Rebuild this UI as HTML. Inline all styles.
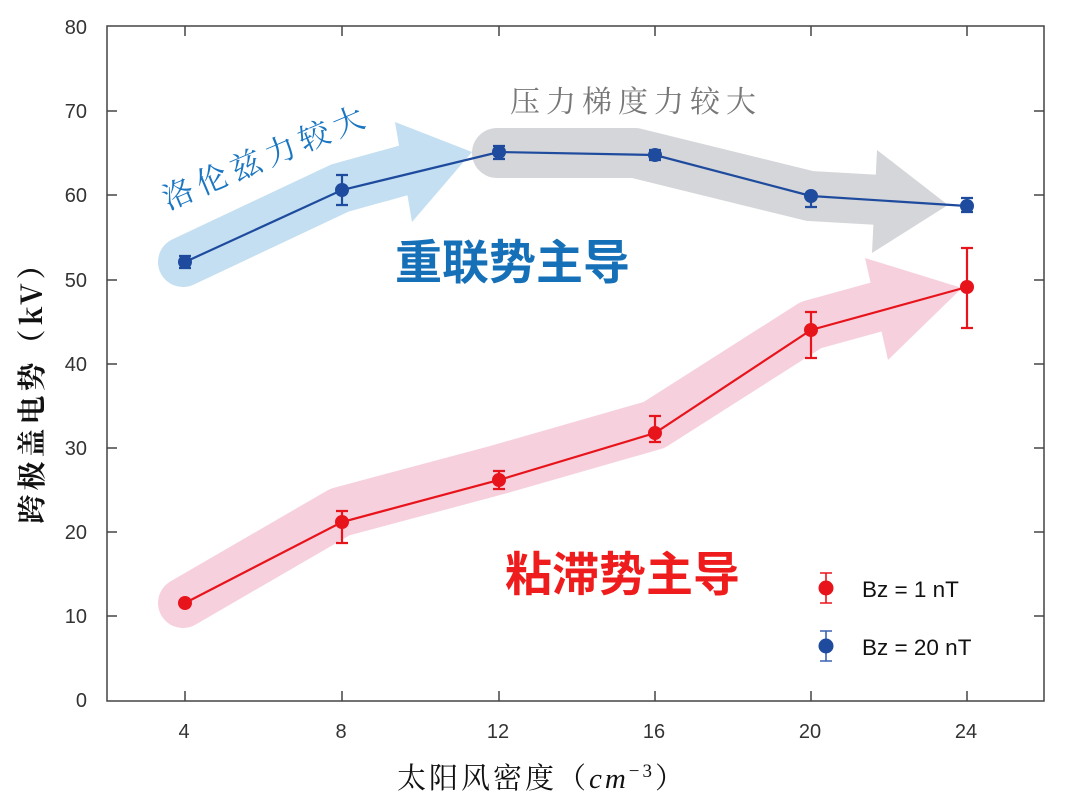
<!DOCTYPE html>
<html><head><meta charset="utf-8"><style>
body{margin:0;background:#fff}
svg text{font-family:"Liberation Sans","Noto Sans CJK SC",sans-serif}
</style></head><body>
<svg width="1068" height="805" viewBox="0 0 1068 805" xmlns="http://www.w3.org/2000/svg">
<polyline points="183,262 340,188 405,170" fill="none" stroke="#c3dff1" stroke-width="50" stroke-linecap="round" stroke-linejoin="round"/>
<polygon points="395,122 472,152 412,222" fill="#c3dff1"/>
<polyline points="497,153 635,153 810,196 880,200" fill="none" stroke="#d4d6d9" stroke-width="50" stroke-linecap="round" stroke-linejoin="round"/>
<polygon points="877,150 948,205 872,253" fill="#d4d6d9"/>
<polyline points="183,603 340,512 497,470 654,425 811,325 880,306" fill="none" stroke="#f6d1dd" stroke-width="50" stroke-linecap="round" stroke-linejoin="round"/>
<polygon points="865,258 962,288 888,360" fill="#f6d1dd"/>
<rect x="107" y="26" width="937" height="675" fill="none" stroke="#444" stroke-width="1.5"/>
<g stroke="#444" stroke-width="1.5">
<line x1="107" y1="111" x2="117" y2="111"/><line x1="107" y1="195" x2="117" y2="195"/><line x1="107" y1="280" x2="117" y2="280"/><line x1="107" y1="364" x2="117" y2="364"/><line x1="107" y1="448" x2="117" y2="448"/><line x1="107" y1="532" x2="117" y2="532"/><line x1="107" y1="616" x2="117" y2="616"/>
<line x1="1034" y1="111" x2="1044" y2="111"/><line x1="1034" y1="195" x2="1044" y2="195"/><line x1="1034" y1="280" x2="1044" y2="280"/><line x1="1034" y1="364" x2="1044" y2="364"/><line x1="1034" y1="448" x2="1044" y2="448"/><line x1="1034" y1="532" x2="1044" y2="532"/><line x1="1034" y1="616" x2="1044" y2="616"/>
<line x1="185" y1="701" x2="185" y2="691"/><line x1="342" y1="701" x2="342" y2="691"/><line x1="499" y1="701" x2="499" y2="691"/><line x1="655" y1="701" x2="655" y2="691"/><line x1="811" y1="701" x2="811" y2="691"/><line x1="967" y1="701" x2="967" y2="691"/>
<line x1="185" y1="26" x2="185" y2="36"/><line x1="342" y1="26" x2="342" y2="36"/><line x1="499" y1="26" x2="499" y2="36"/><line x1="655" y1="26" x2="655" y2="36"/><line x1="811" y1="26" x2="811" y2="36"/><line x1="967" y1="26" x2="967" y2="36"/>
</g>
<g font-size="20" fill="#333" text-anchor="end">
<text x="87" y="34">80</text><text x="87" y="118">70</text><text x="87" y="202">60</text><text x="87" y="287">50</text><text x="87" y="371">40</text><text x="87" y="455">30</text><text x="87" y="539">20</text><text x="87" y="623">10</text><text x="87" y="707">0</text>
</g>
<g font-size="20" fill="#333" text-anchor="middle">
<text x="184" y="738">4</text><text x="341" y="738">8</text><text x="498" y="738">12</text><text x="654" y="738">16</text><text x="810" y="738">20</text><text x="966" y="738">24</text>
</g>
<text x="542" y="788" font-size="29" text-anchor="middle" fill="#111" letter-spacing="3" style="font-family:'Noto Serif CJK SC',serif">太阳风密度（<tspan font-style="italic" style="font-family:'Liberation Serif',serif">cm</tspan><tspan font-size="19" dy="-11" style="font-family:'Liberation Serif',serif">−3</tspan><tspan dy="11">）</tspan></text>
<text transform="translate(42,385) rotate(-90)" font-size="29" text-anchor="middle" fill="#111" letter-spacing="4" style="font-family:'Noto Serif CJK SC',serif;font-weight:bold">跨极盖电势（kV）</text>
<text transform="translate(168,210) rotate(-23)" font-size="31" fill="#1b76c2" letter-spacing="6" style="font-family:'Noto Serif CJK SC',serif">洛伦兹力较大</text>
<text x="510" y="112" font-size="30" fill="#777" letter-spacing="6" style="font-family:'Noto Serif CJK SC',serif">压力梯度力较大</text>
<text x="395" y="279" font-size="47" font-weight="bold" fill="#1670b8">重联势主导</text>
<text x="505" y="591" font-size="47" font-weight="bold" fill="#ee1c1c">粘滞势主导</text>
<g stroke="#1f4b9e" stroke-width="2.2" fill="none">
<polyline points="185,262 342,190 499,152 655,155 811,196 967,206"/>
<path d="M185,256V268M179,256H191M179,268H191 M342,175V205M336,175H348M336,205H348 M499,146V159M493,146H505M493,159H505 M655,150V160M649,150H661M649,160H661 M811,190V207M805,207H817 M967,198V212M961,198H973M961,212H973"/>
</g>
<g fill="#1f4b9e"><circle cx="185" cy="262" r="7"/><circle cx="342" cy="190" r="7"/><circle cx="499" cy="152" r="7"/><circle cx="655" cy="155" r="7"/><circle cx="811" cy="196" r="7"/><circle cx="967" cy="206" r="7"/></g>
<g stroke="#e8141c" stroke-width="2.2" fill="none">
<polyline points="185,603 342,522 499,480 655,433 811,330 967,287"/>
<path d="M185,598V608 M342,511V543M336,511H348M336,543H348 M499,471V489M493,471H505M493,489H505 M655,416V442M649,416H661M649,442H661 M811,312V358M805,312H817M805,358H817 M967,248V328M961,248H973M961,328H973"/>
</g>
<g fill="#e8141c"><circle cx="185" cy="603" r="7"/><circle cx="342" cy="522" r="7"/><circle cx="499" cy="480" r="7"/><circle cx="655" cy="433" r="7"/><circle cx="811" cy="330" r="7"/><circle cx="967" cy="287" r="7"/></g>
<g stroke-width="1.6" fill="none">
<path d="M826,573V603M820,573H832M820,603H832" stroke="#e8141c"/>
<path d="M826,631V661M820,631H832M820,661H832" stroke="#3a62b0"/>
</g>
<circle cx="826" cy="588" r="7.5" fill="#e8141c"/><circle cx="826" cy="646" r="7.5" fill="#1f4b9e"/>
<text x="862" y="597" font-size="22.5" fill="#111">Bz = 1 nT</text>
<text x="862" y="655" font-size="22.5" fill="#111">Bz = 20 nT</text>
</svg>
</body></html>
